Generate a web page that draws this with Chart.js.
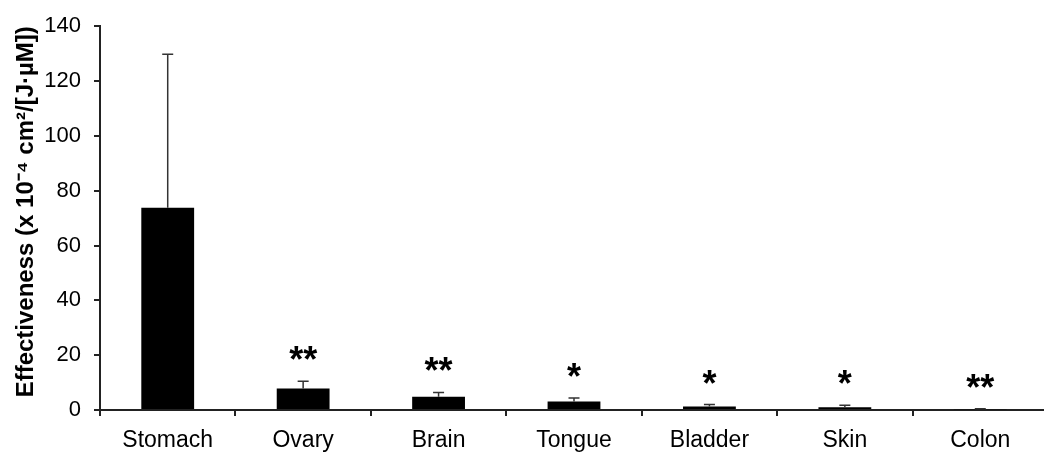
<!DOCTYPE html>
<html>
<head>
<meta charset="utf-8">
<script src="https://cdn.jsdelivr.net/npm/chart.js@4"></script>
<style>
  html, body { margin: 0; padding: 0; background: #fff; overflow: hidden; }
  #wrap { width: 1048px; height: 454px; }
</style>
</head>
<body>
<div id="wrap"><canvas id="myChart"></canvas></div>
<script>
const tissues = ["Stomach", "Ovary", "Brain", "Tongue", "Bladder", "Skin", "Colon"];
const effectiveness = [73.8, 7.8, 4.8, 3.1, 1.3, 1.0, 0.3];
const errUp = [56, 2.7, 1.6, 1.3, 0.7, 0.7, 0.2];
const signif = ["", "**", "**", "*", "*", "*", "**"];
const yTicks = [0, 20, 40, 60, 80, 100, 120, 140];

// error bars (upper only) + significance stars
const errorBars = {
  id: "errorBars",
  afterDatasetsDraw(chart) {
    const ctx = chart.ctx;
    const y = chart.scales.y;
    const meta = chart.getDatasetMeta(0);
    ctx.save();
    meta.data.forEach((bar, i) => {
      const top = y.getPixelForValue(effectiveness[i] + errUp[i]);
      const base = y.getPixelForValue(effectiveness[i]);
      ctx.strokeStyle = "#333";
      ctx.lineWidth = 1.5;
      ctx.beginPath();
      ctx.moveTo(bar.x, base);
      ctx.lineTo(bar.x, top);
      ctx.moveTo(bar.x - 5.5, top);
      ctx.lineTo(bar.x + 5.5, top);
      ctx.stroke();
      if (signif[i]) {
        ctx.fillStyle = "#000";
        ctx.font = "bold 36px 'Liberation Sans', Arial, sans-serif";
        ctx.textAlign = "center";
        ctx.textBaseline = "alphabetic";
        ctx.fillText(signif[i], bar.x, top - 29 + 20);
      }
    });
    ctx.restore();
  }
};

const ctx = document.getElementById("myChart");
new Chart(ctx, {
  type: "bar",
  data: {
    labels: tissues,
    datasets: [
      {
        data: effectiveness,
        backgroundColor: "#000",
        borderWidth: 0,
        categoryPercentage: 1,
        barPercentage: 0.39,
      },
    ],
  },
  options: {
    responsive: true,
    maintainAspectRatio: false,
    animation: false,
    layout: { padding: { left: 12, top: 10, right: 0, bottom: 0 } },
    plugins: { legend: { display: false }, tooltip: { enabled: false } },
    scales: {
      x: {
        border: { color: "#222", width: 2 },
        grid: { display: true, drawOnChartArea: false, color: "#222", lineWidth: 2, tickLength: 6, offset: true },
        ticks: { color: "#000", font: { family: "'Liberation Sans', Arial", size: 23 }, padding: 11 },
        afterFit: (s) => { s.height = 44; },
      },
      y: {
        min: 0,
        max: 140,
        afterBuildTicks: (s) => { s.ticks = yTicks.map((v) => ({ value: v })); },
        border: { color: "#222", width: 2 },
        grid: { display: true, drawOnChartArea: false, color: "#222", lineWidth: 2, tickLength: 6 },
        ticks: { color: "#000", font: { family: "'Liberation Sans', Arial", size: 22 }, padding: 13 },
        title: {
          display: true,
          align: "end",
          text: "Effectiveness (x 10\u207B\u2074 cm\u00B2/[J\u00B7\u00B5M])",
          color: "#000",
          font: { family: "'Liberation Sans', Arial", size: 24, weight: "bold" },
          padding: 0,
        },
        afterFit: (s) => { s.width = 88; },
      },
    },
  },
  plugins: [errorBars],
});
</script>
</body>
</html>
